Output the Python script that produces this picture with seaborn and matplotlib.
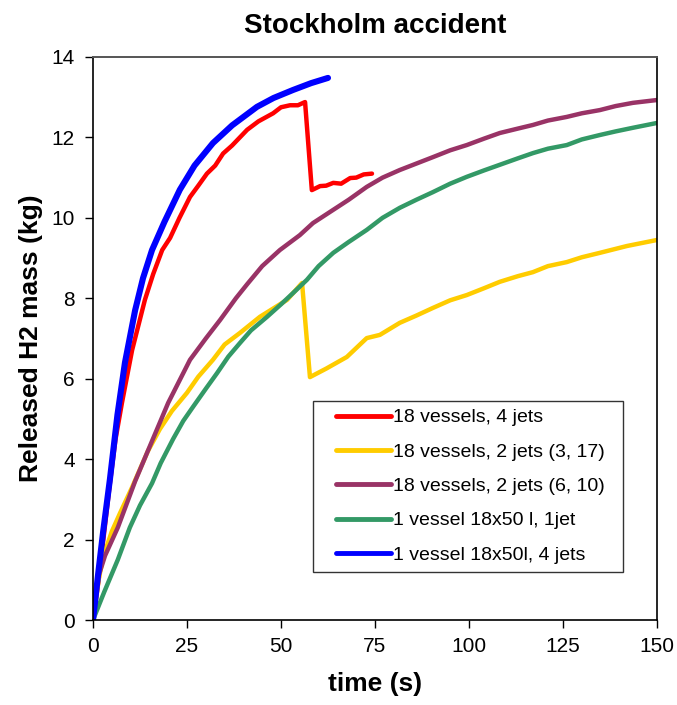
import numpy as np
import pandas as pd
import matplotlib
matplotlib.use("Agg")
import matplotlib.pyplot as plt
from matplotlib.lines import Line2D
from matplotlib.legend_handler import HandlerLine2D
import seaborn as sns

labels = ["18 vessels, 4 jets", "18 vessels, 2 jets (3, 17)", "18 vessels, 2 jets (6, 10)",
          "1 vessel 18x50 l, 1jet", "1 vessel 18x50l, 4 jets"]
colors = ["#FF0000", "#FFCC00", "#993366", "#339966", "#0000FF"]

red_t = [0, 1.5, 3, 4.5, 6, 7.7, 10.4, 13.8, 16, 18.4, 20.5, 23, 25.8, 28, 30.3, 32.5, 34.6, 37, 41, 44,
         47.9, 50, 52.4, 54.5, 56.4, 58.2, 60.4, 62, 63.9, 66, 68.4, 70, 72, 74.2]
red_y = [0, 1.0, 2.2, 3.4, 4.5, 5.4, 6.71, 7.96, 8.6, 9.2, 9.5, 10.0, 10.52, 10.8, 11.1, 11.3, 11.6, 11.8,
         12.19, 12.4, 12.6, 12.75, 12.8, 12.8, 12.88, 10.69, 10.79, 10.8, 10.87, 10.85, 10.99, 11.0, 11.08, 11.1]

yel_t = [0, 1.5, 2.7, 5, 7.2, 10.4, 12.5, 14.6, 17.8, 21, 25, 28, 31.9, 35, 39.1, 44.4, 48, 51.6, 55.6,
         57.7, 62, 67.5, 72.8, 76.3, 81.6, 86, 90.4, 95, 99.4, 104, 108.2, 113, 117, 121, 126, 130, 134.8,
         142, 150]
yel_y = [0, 1.0, 1.57, 2.2, 2.66, 3.3, 3.75, 4.2, 4.75, 5.2, 5.65, 6.05, 6.47, 6.85, 7.14, 7.54, 7.75, 7.96,
         8.38, 6.04, 6.25, 6.54, 7.01, 7.09, 7.39, 7.57, 7.76, 7.95, 8.08, 8.25, 8.41, 8.55, 8.65, 8.8, 8.9,
         9.02, 9.13, 9.3, 9.45]

pur_t = [0, 1.5, 3.2, 6.6, 11.2, 15.7, 20, 25.8, 30, 33.8, 38, 41, 45, 49.7, 55, 58.5, 63.9, 68, 72.8, 77,
         81.6, 86, 90.4, 95, 99.4, 104, 108.2, 113, 117, 121, 126, 130, 134.8, 139, 143.6, 150]
pur_y = [0, 1.1, 1.6, 2.3, 3.45, 4.45, 5.4, 6.47, 7.0, 7.46, 8.0, 8.35, 8.8, 9.2, 9.57, 9.87, 10.2, 10.45,
         10.77, 11.0, 11.19, 11.35, 11.51, 11.68, 11.81, 11.97, 12.11, 12.22, 12.31, 12.42, 12.51, 12.6,
         12.68, 12.78, 12.86, 12.93]

grn_t = [0, 3, 6.6, 9.8, 12.5, 15.7, 18, 21.3, 24, 26.6, 30, 33, 36, 39.1, 42, 46.3, 50, 53.2, 56.9, 60,
         63.9, 68, 72.8, 77, 81.6, 86, 90.4, 95, 99.4, 104, 108.2, 113, 117, 121, 126, 130, 134.8, 139,
         143.6, 150]
grn_y = [0, 0.7, 1.5, 2.3, 2.85, 3.4, 3.9, 4.5, 4.95, 5.3, 5.75, 6.14, 6.55, 6.89, 7.2, 7.54, 7.85, 8.13,
         8.46, 8.8, 9.13, 9.4, 9.7, 10.0, 10.25, 10.45, 10.64, 10.85, 11.02, 11.18, 11.32, 11.48, 11.61,
         11.72, 11.81, 11.95, 12.06, 12.15, 12.24, 12.36]

blu_t = [0, 1.4, 2.7, 4.5, 6.5, 8.5, 11.2, 13.3, 15.7, 19, 23.1, 27, 31.9, 37, 43.6, 48, 53.2, 58, 62.5]
blu_y = [0, 1.17, 2.2, 3.5, 5.1, 6.4, 7.7, 8.5, 9.2, 9.9, 10.7, 11.3, 11.86, 12.3, 12.76, 12.98, 13.18,
         13.35, 13.48]

series = [(red_t, red_y), (yel_t, yel_y), (pur_t, pur_y), (grn_t, grn_y), (blu_t, blu_y)]
frames = []
for lab, (t, y) in zip(labels, series):
    frames.append(pd.DataFrame({"time": t, "mass": y, "series": lab}))
df = pd.concat(frames, ignore_index=True)

sns.set_style("white")
plt.rcParams['font.family'] = ['Liberation Sans', 'DejaVu Sans']
plt.rcParams.update({'text.color': 'black', 'axes.labelcolor': 'black',
                     'xtick.color': 'black', 'ytick.color': 'black'})

fig = plt.figure(figsize=(6.77, 7.05), dpi=100)
ax = fig.add_axes([93/677, 1 - 620/705, (657 - 93)/677, (620 - 57)/705])

for lab, col in zip(labels, colors):
    sub = df[df["series"] == lab]
    lw = 4.4 if lab == labels[4] else 3.2
    sns.lineplot(data=sub, x="time", y="mass", ax=ax, color=col, linewidth=lw,
                 label=lab, sort=False, estimator=None, solid_capstyle='round', solid_joinstyle='round')

ax.set_xlim(0, 150)
ax.set_ylim(0, 14)
ax.set_xticks([0, 25, 50, 75, 100, 125, 150])
ax.set_yticks(range(0, 15, 2))
ax.tick_params(axis='both', which='major', labelsize=15, direction='out', length=6,
               width=1, color='black', labelcolor='black', left=True, bottom=True)
ax.tick_params(axis='y', pad=7)
ax.tick_params(axis='x', pad=6)
for side in ['left', 'bottom', 'right']:
    ax.spines[side].set_color('black')
    ax.spines[side].set_linewidth(1.2)
ax.spines['top'].set_color('#555555')
ax.spines['top'].set_linewidth(1.4)

ax.set_xlabel("time (s)", fontsize=19, fontweight='bold', labelpad=12, color='black')
ax.set_ylabel("Released H2 mass (kg)", fontsize=19, fontweight='bold', labelpad=6, color='black')
ax.set_title("Stockholm accident", fontsize=20, fontweight='bold', pad=17, color='black')

leg = ax.legend(loc='upper left', bbox_to_anchor=((313 - 93)/564, (620 - 401)/563, (623 - 313)/564, 0.0),
                mode='expand', fontsize=14, frameon=True, fancybox=False, edgecolor='black',
                handlelength=3.6, handletextpad=0.1, labelspacing=0.86, borderpad=0.4, borderaxespad=0,
                handler_map={Line2D: HandlerLine2D(xpad=0.8)})
leg.get_frame().set_linewidth(1.0)
for txt in leg.get_texts():
    txt.set_color('black')
for h in leg.get_lines():
    h.set_linewidth(3.5)
    h.set_solid_capstyle('round')

fig.savefig("out.png", dpi=100)
